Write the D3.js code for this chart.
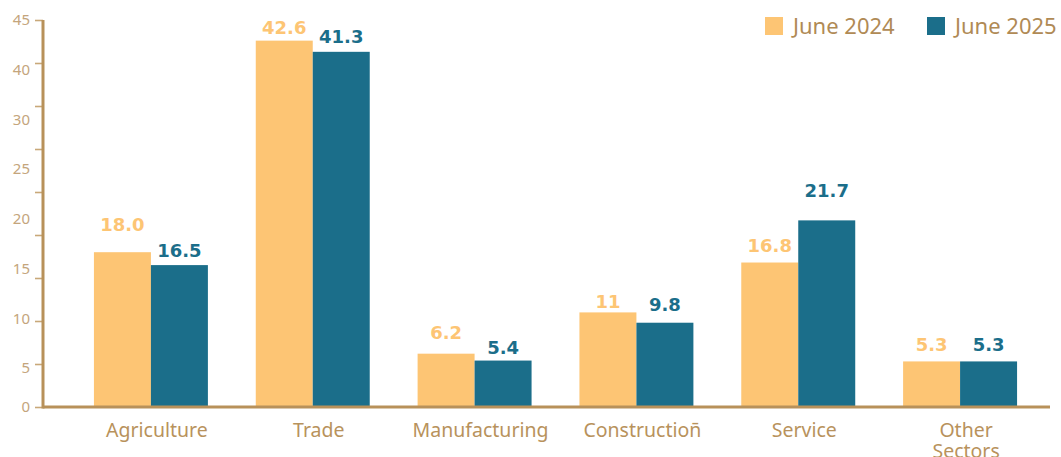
<!DOCTYPE html>
<html lang="en">
<head>
  <meta charset="utf-8">
  <script src="https://cdn.jsdelivr.net/npm/d3@7"></script>
  <style>
    body { margin: 0; background: #fff; }
    text { font-family: "Noto Sans", sans-serif; }
  </style>
</head>
<body>
  <svg id="chart" width="1061" height="457"></svg>
<script>
  // data
  var categories = ["Agriculture", "Trade", "Manufacturing", "Construction\u0304", "Service", "Other Sectors"];
  var seriesNames = ["June 2024", "June 2025"];
  var june2024 = [18.0, 42.6, 6.2, 11, 16.8, 5.3];
  var june2025 = [16.5, 41.3, 5.4, 9.8, 21.7, 5.3];
  var labels2024 = ["18.0", "42.6", "6.2", "11", "16.8", "5.3"];
  var labels2025 = ["16.5", "41.3", "5.4", "9.8", "21.7", "5.3"];
  var yTicks = [0, 5, 10, 15, 20, 25, 30, 35, 40, 45];
  var yTickLabels = ["45", "40", "30", "25", "20", "15", "10", "5"];

  // layout: how far above the bar top each value label sits (px)
  var lift2024 = [28, 13, 21, 11, 17, 17];
  var lift2025 = [15, 15, 13, 18, 30, 17];

  var colors = ["#fdc574", "#1b6e8a"];
  var axisColor = "#b8915a";
  var textColor = "#b8925c";

  var svg = d3.select("#chart");

  var y = d3.scaleLinear().domain([0, 45]).range([407, 20]);
  var x0 = d3.scaleBand().domain(categories).range([70, 1041]);
  var x1 = d3.scaleBand().domain(seriesNames).range([0, x0.bandwidth()]).paddingOuter(0.42);

  var series = [june2024, june2025];
  var texts = [labels2024, labels2025];
  var lifts = [lift2024, lift2025];

  // y ticks (marks only)
  var yAxis = d3.axisLeft(y).tickValues(yTicks).tickFormat("").tickSize(8).tickSizeOuter(0);
  var gy = svg.append("g").attr("transform", "translate(43,0)").call(yAxis);
  gy.select(".domain").remove();
  gy.selectAll(".tick line").attr("stroke", "#c8a879").attr("stroke-width", 1.6);

  // y tick labels (as drawn in the original, spaced evenly)
  var yl = d3.scalePoint().domain(yTickLabels).range([20, 368]);
  svg.append("g").selectAll("text").data(yTickLabels).enter().append("text")
    .attr("x", 30).attr("y", function(d) { return yl(d); })
    .attr("dy", "0.35em").attr("text-anchor", "end")
    .attr("font-size", 15).attr("fill", "#c4a57c")
    .text(function(d) { return d; });
  svg.append("text").attr("x", 30).attr("y", y(0)).attr("dy", "0.35em")
    .attr("text-anchor", "end").attr("font-size", 15).attr("fill", "#c4a57c").text("0");

  // bars
  series.forEach(function(vals, s) {
    var g = svg.append("g");
    g.selectAll("rect").data(vals).enter().append("rect")
      .attr("x", function(d, i) { return x0(categories[i]) + x1(seriesNames[s]); })
      .attr("width", x1.bandwidth())
      .attr("y", function(d) { return y(d); })
      .attr("height", function(d) { return y(0) - y(d); })
      .attr("fill", colors[s]);
    g.selectAll("text").data(vals).enter().append("text")
      .attr("x", function(d, i) { return x0(categories[i]) + x1(seriesNames[s]) + x1.bandwidth() / 2; })
      .attr("y", function(d, i) { return y(d) - lifts[s][i]; })
      .attr("dy", "0.36em")
      .attr("text-anchor", "middle")
      .style("font-family", "'DejaVu Sans', sans-serif")
      .attr("font-size", 18).attr("font-weight", "bold")
      .attr("fill", colors[s])
      .text(function(d, i) { return texts[s][i]; });
  });

  // axis lines
  svg.append("line").attr("x1", 43).attr("x2", 43).attr("y1", y(45)).attr("y2", y(0) + 1.5)
    .attr("stroke", axisColor).attr("stroke-width", 3);
  svg.append("line").attr("x1", 43).attr("x2", 1050).attr("y1", y(0)).attr("y2", y(0))
    .attr("stroke", axisColor).attr("stroke-width", 3);

  // category labels
  var cat = svg.append("g").selectAll("text").data(categories).enter().append("text")
    .attr("x", function(d) { return x0(d) + x0.bandwidth() / 2 + 6; })
    .attr("y", 437)
    .attr("text-anchor", "middle")
    .attr("font-size", 19.5).attr("fill", textColor);
  cat.each(function(d) {
    var words = d === "Other Sectors" ? ["Other", "Sectors"] : [d];
    var t = d3.select(this);
    words.forEach(function(w, k) {
      t.append("tspan").attr("x", t.attr("x")).attr("dy", k === 0 ? 0 : "1.1em").text(w);
    });
  });

  // legend
  var leg = svg.append("g");
  var legX = [765, 927];
  seriesNames.forEach(function(n, s) {
    leg.append("rect").attr("x", legX[s]).attr("y", 17).attr("width", 18).attr("height", 18).attr("fill", colors[s]);
    leg.append("text").attr("x", legX[s] + 28).attr("y", 26).attr("dy", "0.35em")
      .attr("font-size", 22).attr("fill", "#b08a55").text(n);
  });
</script>
</body>
</html>
